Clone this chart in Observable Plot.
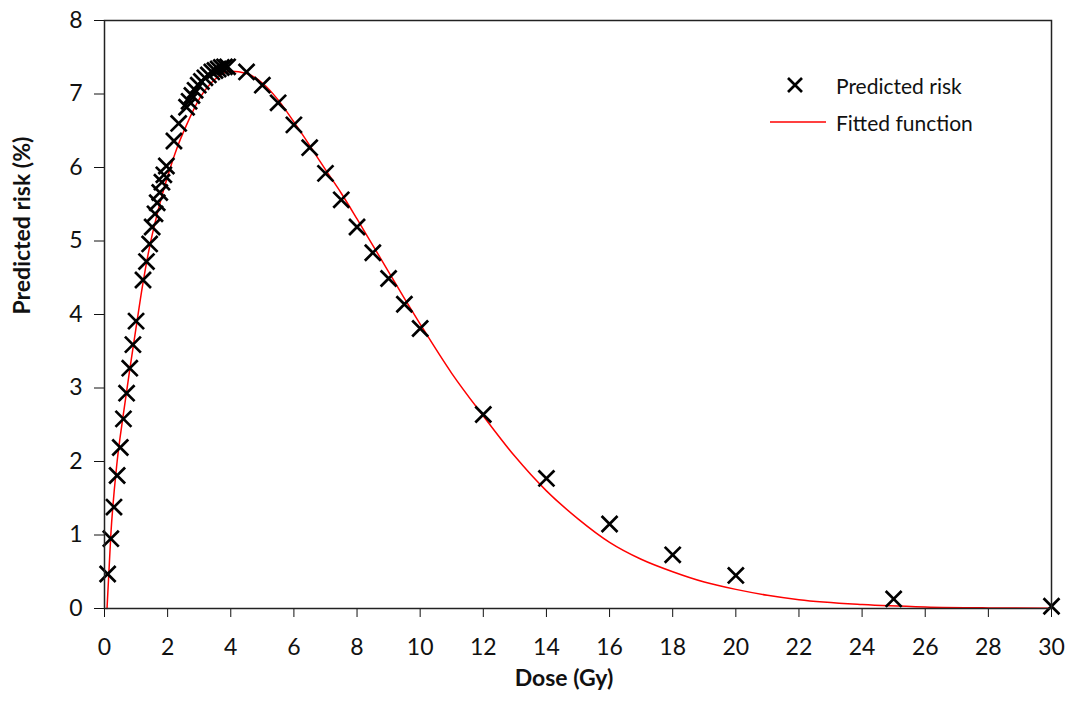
<!DOCTYPE html>
<html>
<head>
<meta charset="utf-8">
<script src="https://cdn.jsdelivr.net/npm/d3@7"></script>
<script src="https://cdn.jsdelivr.net/npm/@observablehq/plot@0.6"></script>
<style>
  html, body { margin: 0; padding: 0; background: #fff; }
  #wrap { position: relative; width: 1067px; height: 718px; font-family: Lato, "Open Sans", sans-serif; }
  .legend { position: absolute; left: 762px; top: 69px; font-size: 21px; color: #111; }
  .legend .row { display: flex; align-items: center; height: 32px; margin-bottom: 5px; }
  .legend svg { width: 66px; height: 32px; margin-right: 8px; }
</style>
</head>
<body>
<div id="wrap">
  <div id="chart"></div>
  <div class="legend">
    <div class="row"><svg viewBox="0 0 66 32"><path d="M26,9L40,23M40,9L26,23" stroke="#000" stroke-width="2.7" fill="none"/></svg><span>Predicted risk</span></div>
    <div class="row"><svg viewBox="0 0 66 32"><line x1="8" y1="16" x2="64" y2="16" stroke="red" stroke-width="1.5"/></svg><span>Fitted function</span></div>
  </div>
</div>
<script>
// Predicted risk points (dose in Gy, risk in %)
const pointDose = [0.1,0.2,0.3,0.4,0.5,0.6,0.7,0.8,0.9,1.0,
  1.22,1.33,1.43,1.51,1.6,1.67,1.75,1.82,1.88,1.96,
  2.2,2.35,2.6,2.68,2.77,2.87,2.97,3.07,3.18,3.29,3.4,3.5,3.6,3.7,3.8,3.9,
  4.5,5,5.5,6,6.5,7,7.5,8,8.5,9,9.5,10,12,14,16,18,20,25,30];
const pointRisk = [0.47,0.95,1.38,1.81,2.19,2.58,2.93,3.27,3.59,3.91,
  4.47,4.72,4.96,5.19,5.37,5.52,5.66,5.8,5.9,6.02,
  6.36,6.6,6.82,6.9,6.98,7.05,7.12,7.17,7.22,7.26,7.3,7.32,7.34,7.36,7.37,7.37,
  7.3,7.12,6.88,6.58,6.27,5.92,5.56,5.19,4.84,4.49,4.14,3.81,2.64,1.77,1.15,0.73,0.45,0.13,0.03];

// Fitted function
const curveDose = [0.08,0.2,0.4,0.6,0.8,1.0,1.2,1.4,1.7,2.0,2.3,2.6,3.0,3.5,4.0,4.5,5.0,5.5,6.0,6.5,7.0,7.5,8.0,8.5,9.0,9.5,10,11,12,13,14,15,16,17,18,19,20,21,22,24,26,28,30];
const curveRisk = [0,1.0,2.0,2.65,3.25,3.82,4.38,4.86,5.42,5.88,6.27,6.58,6.93,7.2,7.31,7.28,7.15,6.92,6.62,6.3,5.97,5.65,5.3,4.94,4.58,4.22,3.87,3.2,2.62,2.07,1.6,1.22,0.9,0.67,0.5,0.36,0.26,0.18,0.12,0.055,0.022,0.008,0.002];

const xTicks = d3.range(0, 31, 2);
const yTicks = d3.range(0, 9, 1);
const xLabel = "Dose (Gy)";
const yLabel = "Predicted risk (%)";

const points = pointDose.map((d, i) => ({dose: d, risk: pointRisk[i]}));
const curve = curveDose.map((d, i) => ({dose: d, risk: curveRisk[i]}));

const chart = Plot.plot({
  width: 1067,
  height: 718,
  marginLeft: 104,
  marginRight: 16,
  marginTop: 20,
  marginBottom: 110,
  style: {fontFamily: "Lato, 'Open Sans', sans-serif", fontSize: "23px", color: "#111", background: "#fff", overflow: "visible"},
  x: {domain: [0, 30], ticks: xTicks, tickSize: 9, tickPadding: 21, label: null},
  y: {domain: [0, 8], ticks: yTicks, tickSize: 10, tickPadding: 12, label: null},
  marks: [
    Plot.line(curve, {x: "dose", y: "risk", stroke: "red", strokeWidth: 1.5, curve: "monotone-x"}),
    Plot.dot(points, {x: "dose", y: "risk", symbol: "times", r: 7.3, stroke: "#000", strokeWidth: 2.7}),
    Plot.frame({stroke: "#222", strokeWidth: 1.5}),
    Plot.text([xLabel], {frameAnchor: "bottom", dy: 77, dx: -14, fontWeight: "bold", fontSize: 23, fill: "#111"}),
    Plot.text([yLabel], {frameAnchor: "left", dx: -82, rotate: -90, fontWeight: "bold", fontSize: 23, fill: "#111"})
  ]
});
document.getElementById("chart").appendChild(chart);
</script>
</body>
</html>
